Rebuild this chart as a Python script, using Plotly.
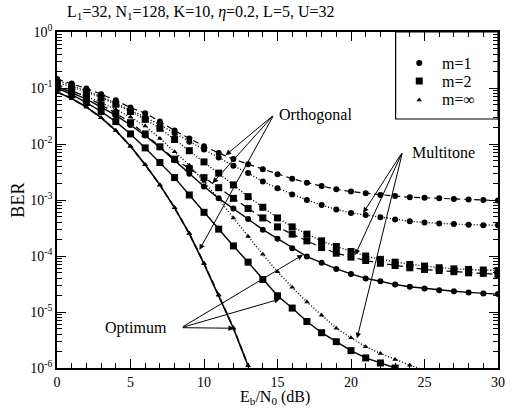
import plotly.graph_objects as go

# ---------------- data (log10 of BER) ----------------
snr_db = list(range(0, 31))

# Orthogonal (dashed)
orth_m1 = [-0.84, -0.92, -1.01, -1.11, -1.22, -1.35, -1.45, -1.60, -1.76, -1.90,
           -2.04, -2.16, -2.27, -2.36, -2.45, -2.54, -2.62, -2.69, -2.75, -2.81,
           -2.85, -2.88, -2.91, -2.93, -2.95, -2.96, -2.97, -2.98, -2.99, -3.00, -3.01]
orth_m2 = [-0.93, -1.04, -1.16, -1.30, -1.45, -1.62, -1.82, -2.05, -2.27, -2.44,
           -2.60, -2.78, -2.97, -3.15, -3.32, -3.48, -3.61, -3.73, -3.85, -3.95,
           -4.02, -4.08, -4.13, -4.17, -4.21, -4.24, -4.26, -4.28, -4.30, -4.31, -4.33]
orth_minf = [-1.07, -1.19, -1.34, -1.53, -1.76, -2.04, -2.37, -2.73, -3.14, -3.60,
             -4.13, -4.69, -5.28, -5.96]

# Multitone (dotted)
mult_m1 = [-0.86, -0.95, -1.05, -1.15, -1.27, -1.40, -1.52, -1.66, -1.81, -1.96,
           -2.10, -2.24, -2.39, -2.52, -2.67, -2.79, -2.90, -3.00, -3.09, -3.17,
           -3.23, -3.27, -3.31, -3.35, -3.38, -3.40, -3.42, -3.43, -3.44, -3.45, -3.45]
mult_m2 = [-0.90, -0.98, -1.07, -1.17, -1.29, -1.42, -1.56, -1.72, -1.92, -2.12,
           -2.32, -2.52, -2.73, -2.94, -3.13, -3.32, -3.48, -3.61, -3.73, -3.83,
           -3.92, -4.00, -4.06, -4.11, -4.15, -4.18, -4.21, -4.23, -4.24, -4.25, -4.26]
mult_minf = [-0.98, -1.06, -1.15, -1.26, -1.38, -1.52, -1.68, -1.90, -2.14, -2.38,
             -2.67, -2.98, -3.32, -3.65, -3.97, -4.28, -4.56, -4.82, -5.06, -5.29,
             -5.46, -5.62, -5.74, -5.85, -5.95, -6.04]

# Optimum (solid)
opt_m1 = [-0.97, -1.08, -1.20, -1.34, -1.49, -1.66, -1.85, -2.06, -2.29, -2.53,
          -2.76, -2.97, -3.15, -3.34, -3.53, -3.69, -3.86, -4.01, -4.12, -4.23,
          -4.32, -4.40, -4.45, -4.51, -4.55, -4.58, -4.61, -4.63, -4.65, -4.67, -4.68]
opt_m2 = [-1.00, -1.12, -1.26, -1.42, -1.60, -1.82, -2.07, -2.33, -2.60, -2.91,
          -3.22, -3.52, -3.82, -4.11, -4.42, -4.71, -4.93, -5.17, -5.37, -5.53,
          -5.69, -5.82, -5.91, -6.00]
opt_minf = [-1.07, -1.19, -1.34, -1.53, -1.76, -2.04, -2.37, -2.73, -3.14, -3.60,
            -4.14, -4.70, -5.29, -5.96]

legend_labels = ["m=1", "m=2", "m=\u221e"]
x_ticks = [0, 5, 10, 15, 20, 25, 30]
y_tick_exps = [0, -1, -2, -3, -4, -5, -6]

# ---------------- styling ----------------
FONT = "Liberation Serif, Times New Roman, Times, serif"
def F(size):
    return dict(family=FONT, size=size, color="black")

sym = {"m1": "circle", "m2": "square", "minf": "triangle-up"}
msize = {"m1": 6, "m2": 7, "minf": 5}

series = [
    (orth_m1, "m1", "6px,4px", 1.2),
    (orth_m2, "m2", "6px,4px", 1.2),
    (mult_m1, "m1", "1px,2px", 1.4),
    (mult_m2, "m2", "1px,2px", 1.4),
    (mult_minf, "minf", "1px,2px", 1.4),
    (opt_m1, "m1", "solid", 1.4),
    (opt_m2, "m2", "solid", 1.4),
    (opt_minf, "minf", "solid", 1.6),
    (orth_minf, "minf", "6px,4px", 1.6),
]

fig = go.Figure()
for vals, m, dash, w in series:
    fig.add_trace(go.Scatter(
        x=snr_db[:len(vals)], y=[10 ** v for v in vals],
        mode="lines+markers", showlegend=False,
        line=dict(color="black", width=w, dash=dash),
        marker=dict(symbol=sym[m], size=msize[m], color="black"),
    ))

# legend samples on an invisible overlay axis (fractions of the plot area)
leg_x = (425 - 57) / 448
leg_txt_x = (446 - 57) / 448
leg_y = [(368 - 63) / 336, (368 - 81) / 336, (368 - 100) / 336]
for lab, m, ly in zip(legend_labels, ["m1", "m2", "minf"], leg_y):
    fig.add_trace(go.Scatter(
        x=[leg_x], y=[ly], xaxis="x2", yaxis="y2", mode="markers",
        showlegend=False, hoverinfo="skip",
        marker=dict(symbol=sym[m], size=msize[m], color="black"),
    ))
    fig.add_annotation(xref="paper", yref="paper", x=leg_txt_x, y=ly,
                       xanchor="left", yanchor="middle", showarrow=False,
                       text=lab, font=F(16))

minor_y = [k * 10 ** e for e in range(-6, 0) for k in range(2, 10)]

fig.update_layout(
    width=512, height=408,
    margin=dict(l=57, r=7, t=32, b=40),
    paper_bgcolor="white", plot_bgcolor="white",
    font=F(13),
    showlegend=False,
    xaxis=dict(range=[0, 30], tickvals=x_ticks, ticks="inside", ticklen=9,
               tickwidth=1.2, tickcolor="black", showline=True, linecolor="black",
               linewidth=1.5, mirror="ticks", showgrid=False, zeroline=False,
               tickfont=F(14),
               minor=dict(dtick=1, ticks="inside", ticklen=5, tickcolor="black",
                          tickwidth=1, showgrid=False)),
    yaxis=dict(type="log", range=[-6, 0],
               tickvals=[10 ** e for e in y_tick_exps],
               ticktext=["10<sup>%d</sup>" % e for e in y_tick_exps],
               ticks="inside", ticklen=9, tickwidth=1.2, tickcolor="black",
               showline=True, linecolor="black", linewidth=1.5, mirror="ticks",
               showgrid=False, zeroline=False, tickfont=F(14),
               minor=dict(tickvals=minor_y, ticks="inside", ticklen=5,
                          tickcolor="black", tickwidth=1, showgrid=False)),
    xaxis2=dict(overlaying="x", range=[0, 1], visible=False, fixedrange=True),
    yaxis2=dict(overlaying="y", range=[0, 1], visible=False, fixedrange=True),
)

# legend box
fig.add_shape(type="rect", xref="paper", yref="paper",
              x0=(401 - 57) / 448, x1=1, y0=(368 - 119) / 336, y1=1,
              line=dict(color="black", width=1.2), fillcolor="rgba(0,0,0,0)")

# title and axis titles
fig.add_annotation(xref="paper", yref="paper", x=(65 - 57) / 448, y=1 + (32 - 13) / 336,
                   xanchor="left", yanchor="middle", showarrow=False,
                   text="L<sub>1</sub>=32, N<sub>1</sub>=128, K=10, <i>\u03b7</i>=0.2, L=5, U=32",
                   font=F(16))
fig.add_annotation(xref="paper", yref="paper", x=(278 - 57) / 448, y=(368 - 397) / 336,
                   xanchor="center", yanchor="middle", showarrow=False,
                   text="E<sub>b</sub>/N<sub>0</sub> (dB)", font=F(16))
fig.add_annotation(xref="paper", yref="paper", x=(17 - 57) / 448, y=0.5,
                   xanchor="center", yanchor="middle", showarrow=False,
                   text="BER", textangle=-90, font=F(18))

# labels with arrows
labels = [
    ("Orthogonal", (14.75, -1.48), [(11.47, -2.20), (10.58, -2.70), (9.69, -3.89)], (320, 115)),
    ("Multitone", (23.51, -2.14), [(20.83, -3.23), (20.29, -3.98), (20.41, -5.47)], (450, 152)),
    ("Optimum", (8.46, -5.28), [(16.72, -3.98), (15.16, -4.77), (12.04, -5.29)], (137, 328)),
]
for text, (tx, ty), tips, (px, py) in labels:
    fig.add_annotation(xref="paper", yref="paper", x=(px - 57) / 448, y=(368 - py) / 336,
                       xanchor="center", yanchor="middle", showarrow=False,
                       text=text, font=F(16))
    for (hx, hy) in tips:
        fig.add_annotation(x=hx, y=hy, ax=tx, ay=ty, xref="x", yref="y",
                           axref="x", ayref="y", text="", showarrow=True,
                           arrowhead=2, arrowsize=1.1, arrowwidth=1,
                           arrowcolor="black", standoff=0, startstandoff=0)

fig.write_html("out.html", config={"displayModeBar": False},
               post_script="document.body.style.margin='0px';document.body.style.overflow='hidden';")
